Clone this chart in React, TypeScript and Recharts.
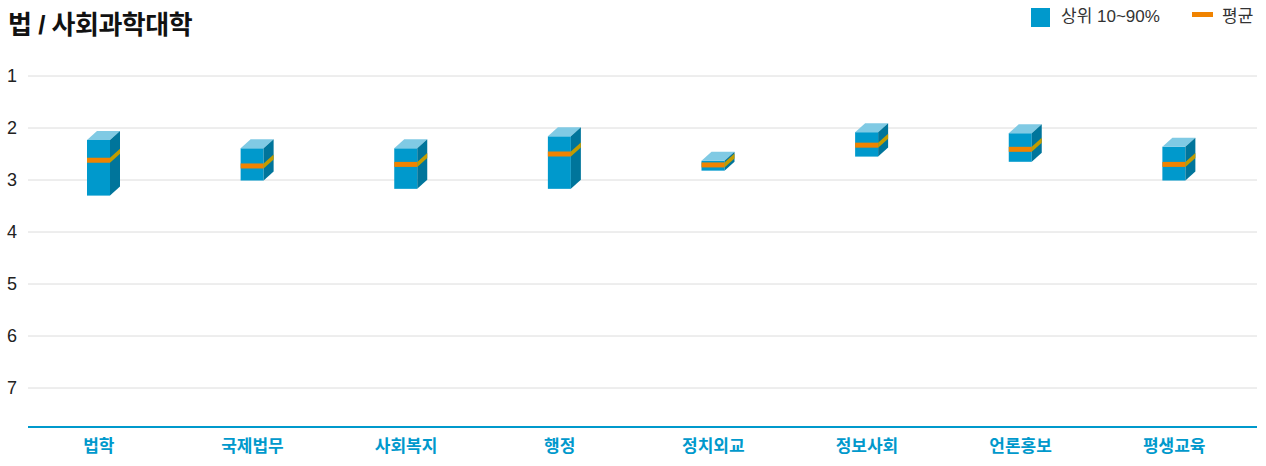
import { ComposedChart, Bar, XAxis, YAxis, CartesianGrid } from 'recharts';

const majors = ['법학', '국제법무', '사회복지', '행정', '정치외교', '정보사회', '언론홍보', '평생교육'];
const top10 = [2.23, 2.39, 2.39, 2.16, 2.63, 2.08, 2.1, 2.36];
const bottom90 = [3.3, 3.01, 3.17, 3.17, 2.82, 2.55, 2.65, 3.01];
const average = [2.62, 2.73, 2.7, 2.5, 2.71, 2.33, 2.41, 2.7];
const gradeTicks = [1, 2, 3, 4, 5, 6, 7];

const data = majors.map((name, i) => ({
  name,
  range: [top10[i], bottom90[i]],
  top: top10[i],
  bottom: bottom90[i],
  avg: average[i],
}));

const FRONT = '#0099cc';
const TOP = '#80cae4';
const SIDE = '#00759b';
const ORANGE = '#f08300';
const ORANGE_SIDE = '#c29c00';
const FONT = '"Liberation Sans", "Noto Sans CJK KR", sans-serif';

function Box3D(props: any) {
  const { x, y, height, payload } = props;
  const h = Math.abs(height);
  const y0 = height < 0 ? y + height : y;
  const x0 = x - 1;
  const w = 23;
  const dx = 10;
  const dy = 9;
  const ppu = h / (payload.bottom - payload.top || 1);
  const ay = y0 + (payload.avg - payload.top) * ppu;
  return (
    <g>
      <rect x={x0} y={y0} width={w} height={h} fill={FRONT} />
      <polygon points={`${x0},${y0} ${x0 + dx},${y0 - dy} ${x0 + w + dx},${y0 - dy} ${x0 + w},${y0}`} fill={TOP} />
      <polygon points={`${x0 + w},${y0} ${x0 + w + dx},${y0 - dy} ${x0 + w + dx},${y0 + h - dy} ${x0 + w},${y0 + h}`} fill={SIDE} />
      <rect x={x0} y={ay - 2.5} width={w} height={5} fill={ORANGE} />
      <polygon
        points={`${x0 + w},${ay - 2.5} ${x0 + w + dx},${ay - 2.5 - dy} ${x0 + w + dx},${ay + 2.5 - dy} ${x0 + w},${ay + 2.5}`}
        fill={ORANGE_SIDE}
      />
    </g>
  );
}

function YTick(props: any) {
  const { y, payload } = props;
  return (
    <text x={7} y={y} dy={6} textAnchor="start" fontSize={18} fill="#222" fontFamily={FONT}>
      {payload.value}
    </text>
  );
}

function XTick(props: any) {
  const { x, payload } = props;
  return (
    <text x={x - 6} y={446} dy={6} textAnchor="middle" fontSize={17} fontWeight="bold" fill="#0099cc" fontFamily={FONT}>
      {payload.value}
    </text>
  );
}

export default function App() {
  return (
    <div style={{ position: 'relative', width: 1266, height: 466, fontFamily: FONT }}>
      <style>{`body{margin:0}`}</style>
      <div style={{ position: 'absolute', left: 8, top: 4, fontSize: 26, fontWeight: 'bold', color: '#111', letterSpacing: -0.5 }}>
        법 / 사회과학대학
      </div>
      <div style={{ position: 'absolute', left: 1031, top: 8, width: 19, height: 19, background: FRONT }} />
      <div style={{ position: 'absolute', left: 1061, top: 6, fontSize: 17, color: '#333', lineHeight: '22px', whiteSpace: 'nowrap' }}>
        상위 10~90%
      </div>
      <div style={{ position: 'absolute', left: 1192, top: 12, width: 21, height: 5, background: ORANGE }} />
      <div style={{ position: 'absolute', left: 1222, top: 6, fontSize: 17, color: '#333', lineHeight: '22px', whiteSpace: 'nowrap' }}>
        평균
      </div>
      <ComposedChart width={1266} height={466} data={data} margin={{ top: 76, right: 9, bottom: 0, left: 0 }}>
        <CartesianGrid vertical={false} stroke="#dcdcdc" />
        <XAxis
          dataKey="name"
          height={39}
          tickLine={false}
          axisLine={{ stroke: '#0099cc', strokeWidth: 2 }}
          tick={<XTick />}
          interval={0}
        />
        <YAxis
          width={28}
          reversed
          domain={[1, 7.75]}
          ticks={gradeTicks}
          allowDataOverflow
          axisLine={false}
          tickLine={false}
          tick={<YTick />}
        />
        <Bar dataKey="range" barSize={33} shape={<Box3D />} isAnimationActive={false} />
      </ComposedChart>
    </div>
  );
}
